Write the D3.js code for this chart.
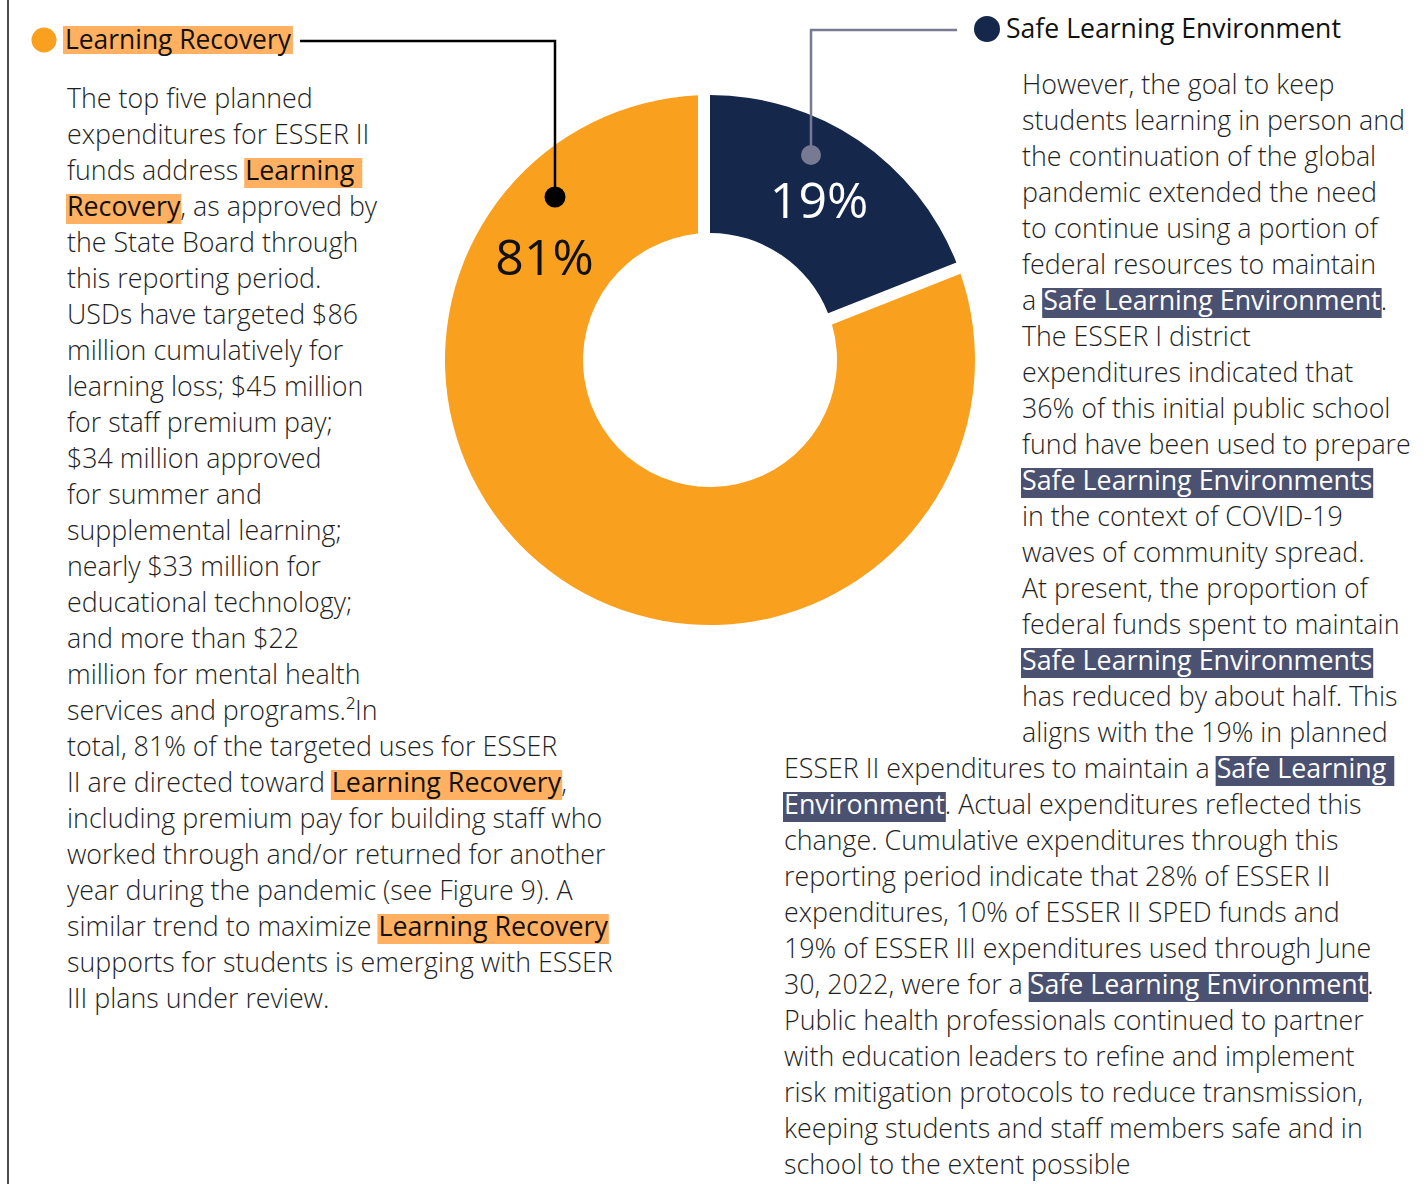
<!DOCTYPE html>
<html lang="en">
<head>
    <meta charset="UTF-8">
    <title>ESSER II planned uses</title>
    <script src="https://d3js.org/d3.v7.min.js"></script>
    <style>
        body { margin: 0; background: #fff; }
        svg { display: block; font-family: "Open Sans", sans-serif; }
        .body-text { font-size: 26.8px; font-weight: 300; fill: #1f1f1f; white-space: pre; }
        .hl { font-weight: 400; }
    </style>
</head>
<body>
    <svg id="chart" width="1428" height="1184"></svg>

    <script>
        // shares of planned ESSER II uses
        const categories = ["Safe Learning Environment", "Learning Recovery"];
        const shares = [19, 81];
        const colors = ["#15284b", "#f9a11f"];
        const labelColors = ["#ffffff", "#111111"];

        // text lines, highlighted pieces marked with [..] (orange) and {..} (navy)
        const leftLines = [
            "The top five planned",
            "expenditures for ESSER II",
            "funds address [Learning ]",
            "[Recovery], as approved by",
            "the State Board through",
            "this reporting period.",
            "USDs have targeted $86",
            "million cumulatively for",
            "learning loss; $45 million",
            "for staff premium pay;",
            "$34 million approved",
            "for summer and",
            "supplemental learning;",
            "nearly $33 million for",
            "educational technology;",
            "and more than $22",
            "million for mental health",
            "services and programs.²In",
            "total, 81% of the targeted uses for ESSER",
            "II are directed toward [Learning Recovery],",
            "including premium pay for building staff who",
            "worked through and/or returned for another",
            "year during the pandemic (see Figure 9). A",
            "similar trend to maximize [Learning Recovery]",
            "supports for students is emerging with ESSER",
            "III plans under review."
        ];
        const rightLines = [
            "However, the goal to keep",
            "students learning in person and",
            "the continuation of the global",
            "pandemic extended the need",
            "to continue using a portion of",
            "federal resources to maintain",
            "a {Safe Learning Environment}.",
            "The ESSER I district",
            "expenditures indicated that",
            "36% of this initial public school",
            "fund have been used to prepare",
            "{Safe Learning Environments}",
            "in the context of COVID-19",
            "waves of community spread.",
            "At present, the proportion of",
            "federal funds spent to maintain",
            "{Safe Learning Environments}",
            "has reduced by about half. This",
            "aligns with the 19% in planned"
        ];
        const lowerLines = [
            "ESSER II expenditures to maintain a {Safe Learning }",
            "{Environment}. Actual expenditures reflected this",
            "change. Cumulative expenditures through this",
            "reporting period indicate that 28% of ESSER II",
            "expenditures, 10% of ESSER II SPED funds and",
            "19% of ESSER III expenditures used through June",
            "30, 2022, were for a {Safe Learning Environment}.",
            "Public health professionals continued to partner",
            "with education leaders to refine and implement",
            "risk mitigation protocols to reduce transmission,",
            "keeping students and staff members safe and in",
            "school to the extent possible"
        ];

        const svg = d3.select("#chart");
        const hlFill = { "[": "#ffb060", "{": "#4b5170" };
        const hlText = { "[": "#111111", "{": "#ffffff" };

        function parseLine(s) {
            const parts = [];
            const re = /(\[[^\]]*\]|\{[^}]*\})/g;
            let last = 0, m;
            while ((m = re.exec(s)) !== null) {
                if (m.index > last) parts.push({ t: s.slice(last, m.index), k: null });
                parts.push({ t: m[0].slice(1, -1), k: m[0][0] });
                last = m.index + m[0].length;
            }
            if (last < s.length) parts.push({ t: s.slice(last), k: null });
            return parts;
        }

        function drawBlock(lines, x, y0, step) {
            const g = svg.append("g");
            lines.forEach((line, i) => {
                const y = y0 + i * step;
                const bg = g.append("g");
                const text = g.append("text")
                    .attr("class", "body-text")
                    .attr("x", x)
                    .attr("y", y);
                const parts = parseLine(line);
                text.selectAll("tspan")
                    .data(parts)
                    .join("tspan")
                    .attr("class", d => d.k ? "hl" : null)
                    .style("fill", d => d.k ? hlText[d.k] : null)
                    .text(d => d.t);
                // highlight boxes behind the marked pieces
                let pos = 0;
                const node = text.node();
                const n = node.getNumberOfChars();
                parts.forEach(p => {
                    if (p.k) {
                        const a = node.getStartPositionOfChar(Math.min(pos, n - 1)).x;
                        const b = node.getEndPositionOfChar(Math.min(pos + p.t.length - 1, n - 1)).x;
                        bg.append("rect")
                            .attr("x", a - 1)
                            .attr("y", y - 22)
                            .attr("width", b - a + 2)
                            .attr("height", 30)
                            .attr("fill", hlFill[p.k]);
                    }
                    pos += p.t.length;
                });
            });
        }

        // left frame rule
        svg.append("line")
            .attr("x1", 8).attr("x2", 8)
            .attr("y1", 0).attr("y2", 1184)
            .attr("stroke", "#111").attr("stroke-width", 1.5);

        // donut
        const cx = 710, cy = 360, outerR = 265, innerR = 127;
        const pie = d3.pie().sort(null).value(d => d);
        const arcs = pie(shares);
        const arc = d3.arc()
            .innerRadius(innerR)
            .outerRadius(outerR)
            .padRadius(outerR)
            .padAngle(d => d.index === 1 ? 24 / outerR : 0);

        const donut = svg.append("g").attr("transform", `translate(${cx},${cy})`);
        donut.selectAll("path")
            .data(arcs)
            .join("path")
            .attr("d", arc)
            .attr("fill", (d, i) => colors[i]);

        // label spots: small slice at its mid angle, big slice up in its upper-left part
        const labelAngle = d => d.index === 0 ? (d.startAngle + d.endAngle) / 2 : -1.013;
        const labelR = [194, 195];
        donut.selectAll("text")
            .data(arcs)
            .join("text")
            .attr("transform", d => {
                const a = labelAngle(d), r = labelR[d.index];
                return `translate(${Math.sin(a) * r},${-Math.cos(a) * r})`;
            })
            .attr("text-anchor", "middle")
            .attr("dy", "0.36em")
            .attr("font-size", 50)
            .attr("font-weight", 500)
            .attr("fill", (d, i) => labelColors[i])
            .text(d => d.data + "%");

        // legend + connector for Learning Recovery
        svg.append("circle").attr("cx", 44).attr("cy", 40).attr("r", 12.5).attr("fill", "#f9a11f");
        const lrBox = svg.append("rect").attr("fill", "#ffb060");
        const lrText = svg.append("text")
            .attr("x", 65).attr("y", 49)
            .attr("font-size", 26.4).attr("fill", "#111")
            .text(categories[1]);
        const lrW = lrText.node().getComputedTextLength();
        lrBox.attr("x", 63).attr("y", 26).attr("width", lrW + 4).attr("height", 28);
        svg.append("path")
            .attr("d", "M300,41H555V197")
            .attr("fill", "none").attr("stroke", "#000").attr("stroke-width", 2.5);
        svg.append("circle").attr("cx", 555).attr("cy", 197).attr("r", 10.5).attr("fill", "#000");

        // legend + connector for Safe Learning Environment
        svg.append("path")
            .attr("d", "M957,30H811V155")
            .attr("fill", "none").attr("stroke", "#777a92").attr("stroke-width", 2.5);
        svg.append("circle").attr("cx", 811).attr("cy", 155).attr("r", 10).attr("fill", "#777a92");
        svg.append("circle").attr("cx", 987).attr("cy", 29).attr("r", 13).attr("fill", "#15284b");
        svg.append("text")
            .attr("x", 1006).attr("y", 38)
            .attr("font-size", 26.6).attr("fill", "#111")
            .text(categories[0]);

        drawBlock(leftLines, 67, 108, 36);
        drawBlock(rightLines, 1022, 94, 36);
        drawBlock(lowerLines, 784, 778, 36);
    </script>
</body>
</html>
